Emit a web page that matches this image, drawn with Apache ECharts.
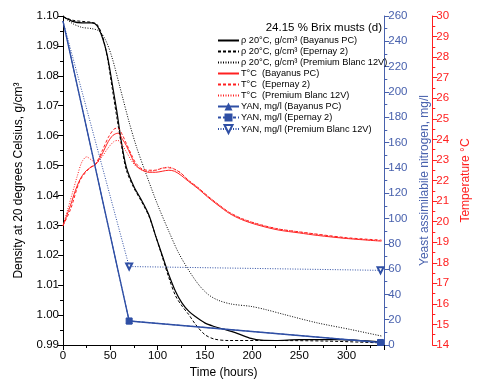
<!DOCTYPE html>
<html><head><meta charset="utf-8">
<script src="https://cdn.jsdelivr.net/npm/echarts@6/dist/echarts.min.js"></script>
<style>html,body{margin:0;padding:0;background:#fff}#c{width:480px;height:384px}</style>
</head><body><div id="c"></div>
<script>
// ---- Data ----
const chartTitle = "24.15 % Brix musts (d)";
const xTicks = [0, 50, 100, 150, 200, 250, 300];

// Density (g/cm3) vs time (h)
const densBayanus = [[0,1.0998],[10,1.0982],[20,1.0977],[30,1.0977],[36,1.0968],[42,1.0925],[47,1.0866],[52,1.0775],[57,1.0680],[62,1.0575],[67,1.0495],[75,1.0430],[83,1.0385],[91,1.0334],[98,1.0265],[105,1.0200],[112,1.0135],[119,1.0080],[126,1.0040],[133,1.0013],[140,0.9995],[150,0.9974],[160,0.9962],[171,0.9952],[185,0.9938],[199,0.9922],[210,0.9916],[225,0.9915],[250,0.9918],[290,0.9918],[337,0.9910]];
const densEpernay = [[0,1.0998],[10,1.0986],[20,1.0982],[30,1.0979],[36,1.0972],[42,1.0930],[47,1.0860],[52,1.0760],[57,1.0660],[62,1.0565],[67,1.0485],[75,1.0425],[83,1.0380],[91,1.0330],[98,1.0265],[105,1.0195],[112,1.0125],[119,1.0065],[126,1.0030],[133,1.0002],[140,0.9970],[150,0.9935],[160,0.9920],[175,0.9915],[220,0.9915],[280,0.9913],[337,0.9907]];
const densPremium = [[0,1.0998],[10,1.0975],[20,1.0962],[30,1.0958],[38,1.0950],[45,1.0920],[52,1.0860],[60,1.0765],[70,1.0645],[78,1.0560],[87,1.0480],[100,1.0370],[112,1.0280],[122,1.0210],[133,1.0150],[144,1.0100],[154,1.0068],[164,1.0050],[178,1.0037],[199,1.0029],[215,1.0018],[234,1.0002],[269,0.9974],[304,0.9952],[337,0.9930]];

// Temperature (°C) vs time (h)
const tempBayanus = [[0,19.8],[4,20.3],[8,20.8],[13,21.5],[18,22.05],[23,22.4],[28,22.6],[35,22.8],[42,23.35],[48,23.9],[53,24.2],[58,24.3],[63,24.0],[67,23.7],[72,23.2],[77,22.75],[84,22.5],[91,22.4],[98,22.4],[105,22.45],[112,22.5],[118,22.45],[125,22.25],[133,21.95],[143,21.6],[153,21.2],[164,20.8],[176,20.4],[189,20.1],[205,19.85],[227,19.6],[250,19.45],[269,19.33],[300,19.18],[337,19.05]];
const tempEpernay = [[0,19.8],[8,20.6],[18,22.0],[28,22.6],[35,22.85],[42,23.5],[48,24.1],[54,24.5],[58,24.55],[63,24.2],[67,23.8],[72,23.3],[77,22.85],[84,22.55],[91,22.5],[98,22.5],[105,22.6],[112,22.62],[118,22.55],[125,22.35],[133,22.0],[143,21.65],[153,21.25],[164,20.85],[176,20.45],[189,20.15],[205,19.9],[227,19.65],[250,19.5],[300,19.22],[337,19.1]];
const tempPremium = [[0,19.8],[5,20.6],[10,21.4],[15,22.2],[20,22.9],[25,23.15],[30,23.0],[35,22.85],[42,23.2],[48,23.6],[54,23.9],[58,23.95],[63,23.7],[67,23.4],[72,23.0],[77,22.7],[84,22.5],[91,22.45],[98,22.5],[105,22.6],[112,22.65],[118,22.55],[125,22.35],[133,22.0],[143,21.65],[153,21.25],[164,20.85],[176,20.45],[189,20.15],[205,19.9],[227,19.65],[250,19.5],[300,19.2],[337,19.08]];

// YAN (mg/l) vs time (h)
const yanBayanus = [[0,256],[70,19],[336,2]];
const yanEpernay = [[0,256],[70,19],[336,2]];
const yanPremium = [[0,256],[70,62],[336,59]];

const names = {
  dB: "\u03c1 20\u00b0C, g/cm\u00b3 (Bayanus PC)",
  dE: "\u03c1 20\u00b0C, g/cm\u00b3 (Epernay 2)",
  dP: "\u03c1 20\u00b0C, g/cm\u00b3 (Premium Blanc 12V)",
  tB: "T\u00b0C  (Bayanus PC)",
  tE: "T\u00b0C  (Epernay 2)",
  tP: "T\u00b0C  (Premium Blanc 12V)",
  yB: "YAN, mg/l (Bayanus PC)",
  yE: "YAN, mg/l (Epernay 2)",
  yP: "YAN, mg/l (Premium Blanc 12V)"
};

// ---- Styling ----
const FONT = "'Liberation Sans', Arial, sans-serif";
const BLACK = '#000';
const RED = '#ff2020';
const BLUE = '#2f4fa5';
const BLUEAX = '#4861ad';
const DASH = [3, 2];
const DOT = [1, 1.5];

function hideFirst(arr){ return arr.map((p,i)=> i===0 ? {value:p, symbol:'none'} : p); }

function lineSeries(name, data, yIdx, color, type, width){
  return {name, type:'line', data, yAxisIndex:yIdx, smooth:0.3,
    symbol:'none', showSymbol:false, clip:true,
    lineStyle:{color, width, type}, itemStyle:{color}, emphasis:{disabled:true}, z:2};
}
function yanSeries(name, data, type, symbol, rotate){
  return {name, type:'line', data:hideFirst(data), yAxisIndex:1, symbol, symbolSize:6, symbolRotate:rotate||0,
    showSymbol:true, clip:true,
    lineStyle:{color:BLUE, width: type==='solid'?1.4:1, type},
    itemStyle:{color:BLUE, borderColor:BLUE}, emphasis:{disabled:true}, z:3};
}

const axisCommon = (color) => ({
  axisLine:{show:true, lineStyle:{color, width:1}},
  axisTick:{show:true, inside:false, length:5, lineStyle:{color}},
  minorTick:{show:true, splitNumber:2, length:3, lineStyle:{color}},
  splitLine:{show:false},
  axisLabel:{color, fontFamily:FONT, fontSize:11.5, margin:4},
  nameTextStyle:{color, fontFamily:FONT, fontSize:12}
});

const noSym = {opacity:0};
const chart = echarts.init(document.getElementById('c'), null, {renderer:'canvas'});
chart.setOption({
  animation:false,
  backgroundColor:'#fff',
  title:{text:chartTitle, right:93, top:17, textStyle:{fontFamily:FONT, fontSize:11.5, fontWeight:'normal', color:'#000'}},
  grid:{left:63, right:93, top:16, bottom:37, containLabel:false},
  legend:{orient:'vertical', left:212, top:31, padding:5, itemWidth:21, itemHeight:10, itemGap:2,
    textStyle:{fontFamily:FONT, fontSize:9.2, color:'#000', padding:[0,0,0,-3]},
    data:[
      {name:names.dB, itemStyle:noSym},{name:names.dE, itemStyle:noSym},{name:names.dP, itemStyle:noSym},
      {name:names.tB, itemStyle:noSym},{name:names.tE, itemStyle:noSym},{name:names.tP, itemStyle:noSym},
      names.yB, names.yE, names.yP],
    selectedMode:false},
  xAxis:Object.assign(axisCommon('#000'), {type:'value', min:0, max:340, interval:50,
    name:'Time (hours)', nameLocation:'middle', nameGap:22,
    axisLabel:{color:'#000', fontFamily:FONT, fontSize:11.5, margin:5, showMaxLabel:false}}),
  yAxis:[
    Object.assign(axisCommon('#000'), {type:'value', position:'left', min:0.99, max:1.10, interval:0.01,
      name:'Density at 20 degrees Celsius, g/cm\u00b3', nameLocation:'middle', nameGap:38, nameRotate:90,
      axisLabel:{color:'#000', fontFamily:FONT, fontSize:11.5, margin:4, formatter:v=>v.toFixed(2)}}),
    Object.assign(axisCommon(BLUEAX), {type:'value', position:'right', offset:0, min:0, max:260, interval:20,
      name:'Yeast assimilabile nitrogen, mg/l', nameLocation:'middle', nameGap:30, nameRotate:90}),
    Object.assign(axisCommon(RED), {type:'value', position:'right', offset:48, min:14, max:30, interval:1,
      name:'Temperature \u00b0C', nameLocation:'middle', nameGap:22, nameRotate:90})
  ],
  series:[
    lineSeries(names.dB, densBayanus, 0, BLACK, 'solid', 1.2),
    lineSeries(names.dE, densEpernay, 0, BLACK, DASH, 1),
    lineSeries(names.dP, densPremium, 0, BLACK, DOT, 1),
    lineSeries(names.tB, tempBayanus, 2, RED, 'solid', 1),
    lineSeries(names.tE, tempEpernay, 2, RED, DASH, 1),
    lineSeries(names.tP, tempPremium, 2, RED, DOT, 1),
    yanSeries(names.yB, yanBayanus, 'solid', 'triangle', 0),
    yanSeries(names.yE, yanEpernay, DASH, 'rect', 0),
    yanSeries(names.yP, yanPremium, DOT, 'emptyTriangle', 180)
  ]
});
</script></body></html>
